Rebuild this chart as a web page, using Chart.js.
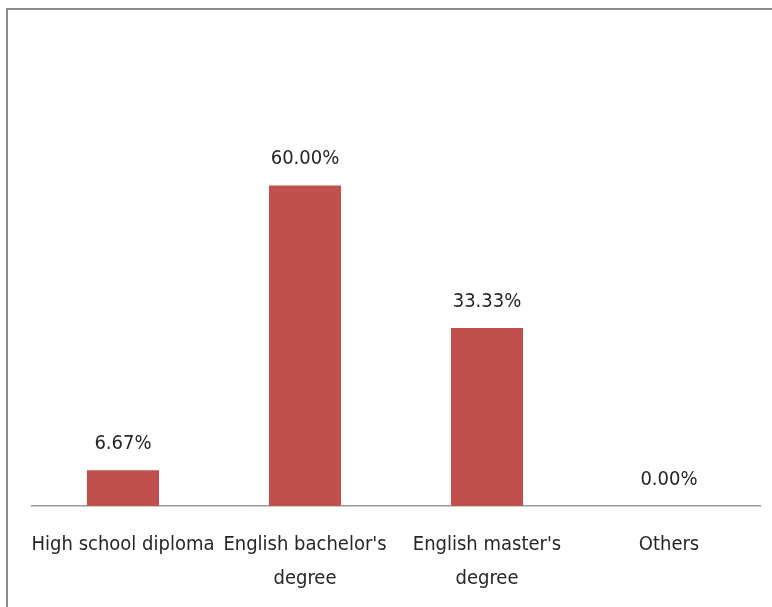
<!DOCTYPE html>
<html>
<head>
<meta charset="utf-8">
<script src="https://cdn.jsdelivr.net/npm/chart.js@4/dist/chart.umd.min.js"></script>
<style>
  html, body { margin: 0; padding: 0; background: #fff; }
  #wrap { position: relative; width: 772px; height: 607px; overflow: hidden; }
  #frame {
    position: absolute; left: 6px; top: 8px; width: 800px; height: 700px;
    border: 2px solid #8c8c8c; box-sizing: border-box;
  }
  canvas { position: absolute; left: 0; top: 0; }
</style>
</head>
<body>
<div id="wrap">
  <div id="frame"></div>
  <canvas id="chart" width="772" height="630"></canvas>
</div>
<script>
const categories = [
  'High school diploma',
  ["English bachelor's", 'degree'],
  ["English master's", 'degree'],
  'Others'
];
const shares = [6.67, 60.00, 33.33, 0.00];

const FONT = "'Liberation Sans Narrow', 'DejaVu Sans Condensed', sans-serif";

// percentage labels above each bar
const valueLabels = {
  id: 'valueLabels',
  afterDatasetsDraw(chart) {
    const ctx = chart.ctx;
    const meta = chart.getDatasetMeta(0);
    ctx.save();
    ctx.font = '20px ' + FONT;
    ctx.fillStyle = '#262626';
    ctx.textAlign = 'center';
    ctx.textBaseline = 'alphabetic';
    meta.data.forEach((bar, i) => {
      ctx.fillText(shares[i].toFixed(2) + '%', bar.x, bar.y - 21);
    });
    ctx.restore();
  }
};

new Chart(document.getElementById('chart'), {
  type: 'bar',
  data: {
    labels: categories,
    datasets: [{
      data: shares,
      backgroundColor: '#c0504d',
      barPercentage: 0.396,
      categoryPercentage: 1
    }]
  },
  options: {
    responsive: false,
    animation: false,
    devicePixelRatio: 1,
    layout: { padding: { left: 32, right: 12, top: 132, bottom: 20 } },
    plugins: { legend: { display: false }, tooltip: { enabled: false } },
    scales: {
      y: { display: false, min: 0, max: 70 },
      x: {
        grid: { display: false },
        border: { display: true, color: '#999', width: 1.5 },
        ticks: {
          color: '#262626',
          font: { family: FONT, size: 20, lineHeight: 1.7 },
          padding: 14,
          maxRotation: 0,
          autoSkip: false
        }
      }
    }
  },
  plugins: [valueLabels]
});
</script>
</body>
</html>
